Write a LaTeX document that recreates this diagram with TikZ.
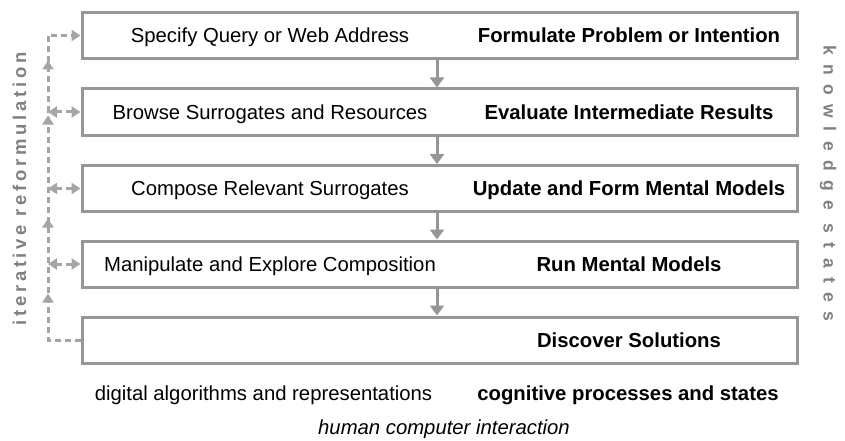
\documentclass[tikz,border=0pt]{standalone}
\usepackage{fontspec}
\setmainfont{Liberation Sans}
\usetikzlibrary{arrows.meta,decorations.markings}
\definecolor{boxgray}{RGB}{150,150,150}
\definecolor{dashgray}{RGB}{165,165,165}
\definecolor{labelgray}{RGB}{128,128,128}
\tikzset{
  stage/.style={draw=boxgray, line width=3pt, minimum width=715pt, minimum height=46pt, inner sep=0pt},
  txt/.style={font=\fontsize{20.3pt}{24pt}\selectfont, inner sep=0pt, anchor=base},
  btxt/.style={txt, font=\fontsize{20.3pt}{24pt}\selectfont\bfseries},
  down/.style={draw=boxgray, line width=3pt, -{Triangle[width=14pt,length=10pt]}},
  fb/.style={draw=dashgray, line width=3pt, dash pattern=on 6pt off 4pt}
}
\begin{document}
\begin{tikzpicture}[x=1pt,y=1pt]
\useasboundingbox (0,0) rectangle (845,-441);
% boxes
\node[stage] (b1) at (439.5,-35.5) {};
\node[stage] (b2) at (439.5,-112) {};
\node[stage] (b3) at (439.5,-188.5) {};
\node[stage] (b4) at (439.5,-264) {};
\node[stage] (b5) at (439.5,-340) {};
% texts
\node[txt] (l1) at (270,-42.8) {Specify Query or Web Address};
\node[txt] (l2) at (270,-119.3) {Browse Surrogates and Resources};
\node[txt] (l3) at (270,-195.8) {Compose Relevant Surrogates};
\node[txt] (l4) at (270,-271.3) {Manipulate and Explore Composition};
\node[btxt] (r1) at (629,-42.8) {Formulate Problem or Intention};
\node[btxt] (r2) at (629,-119.3) {Evaluate Intermediate Results};
\node[btxt] (r3) at (629,-195.8) {Update and Form Mental Models};
\node[btxt] (r4) at (629,-271.3) {Run Mental Models};
\node[btxt] (r5) at (629,-347.3) {Discover Solutions};
% down arrows
\foreach \a/\b in {b1/b2,b2/b3,b3/b4,b4/b5}{
  \draw[down] ([xshift=-2.5pt]\a.south) -- ([xshift=-2.5pt]\b.north);
}
% feedback loop
\coordinate (lt) at (48,-35.5);
\coordinate (lb) at (48,-340);
\draw[fb, -{Triangle[width=11pt,length=9pt]},
  postaction={decorate, decoration={markings,
    mark=at position 79pt with {\arrow{Triangle[width=11pt,length=9pt]}},
    mark=at position 154pt with {\arrow{Triangle[width=11pt,length=9pt]}},
    mark=at position 257pt with {\arrow{Triangle[width=11pt,length=9pt]}},
    mark=at position 312pt with {\arrow{Triangle[width=11pt,length=9pt]}}}}]
  (b5.west) -- (lb) -- (lt) -- (b1.west);
\foreach \b in {b2,b3,b4}{
  \draw[fb, {Triangle[width=11pt,length=9pt]}-{Triangle[width=11pt,length=9pt]}] (\b.west -| lt) -- (\b.west);
}
% side labels
\node[rotate=90, anchor=base, inner sep=0pt, text=labelgray, font=\fontsize{18.5pt}{20pt}\selectfont\bfseries\addfontfeature{LetterSpace=20}] (il) at (26,-189) {iterative reformulation};
\node[rotate=-90, anchor=base, inner sep=0pt, text=labelgray, font=\fontsize{17.5pt}{18pt}\selectfont\bfseries\addfontfeature{LetterSpace=53}] (ks) at (823.5,-183) {knowledge states};
% bottom labels
\node[txt] (dg) at (263.5,-400) {digital algorithms and representations};
\node[btxt] (cg) at (628,-400) {cognitive processes and states};
\node[txt, font=\fontsize{20.3pt}{24pt}\selectfont\itshape] (hc) at (444,-434) {human computer interaction};
\end{tikzpicture}
\end{document}
